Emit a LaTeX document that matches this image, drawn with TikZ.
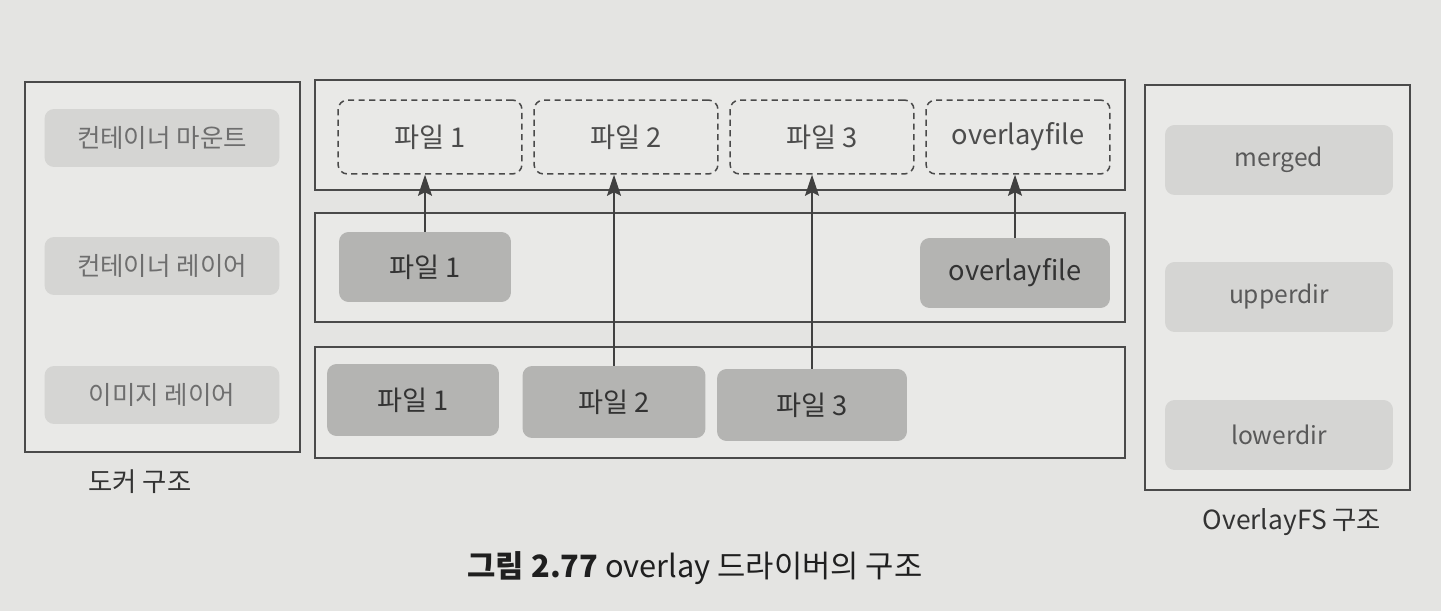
\documentclass[tikz,border=0pt]{standalone}
\usepackage{fontspec}
\setmainfont{Noto Sans CJK KR}
\usetikzlibrary{arrows.meta}
\definecolor{bg}{HTML}{E4E4E2}
\definecolor{panelbg}{HTML}{E9E9E7}
\definecolor{framec}{HTML}{4A4A4A}
\definecolor{darkpill}{HTML}{B4B4B2}
\definecolor{lightpill}{HTML}{D5D5D3}
\definecolor{lighttext}{HTML}{6E6E6E}
\tikzset{
  frame/.style={draw=framec, line width=0.8pt, fill=panelbg, inner sep=0pt},
  dashbox/.style={draw=framec, line width=0.85pt, dash pattern=on 3.5pt off 2.5pt,
    rounded corners=5.5pt, inner sep=0pt, text=black!70, font=\fontsize{15.5}{18}\selectfont},
  filebox/.style={fill=darkpill, rounded corners=5.5pt, inner sep=0pt, text=black!80,
    font=\fontsize{15.5}{18}\selectfont},
  sidepill/.style={fill=lightpill, rounded corners=5.5pt, inner sep=0pt, text=lighttext,
    minimum height=1.16cm, font=\fontsize{14.5}{17}\selectfont},
  sidepillR/.style={sidepill, text=black!65, font=\fontsize{14}{16}\selectfont},
  lbl/.style={text=black!80, font=\fontsize{15}{17}\selectfont, inner sep=0pt},
  uparrow/.style={draw=black!75, line width=0.85pt, -{Stealth[length=12pt,width=8pt,inset=2pt]}}
}
\begin{document}
\begin{tikzpicture}[x=0.02cm, y=-0.02cm]
\useasboundingbox (0,0) rectangle (1441,611);
\fill[bg] (0,0) rectangle (1441,611);

% Docker structure
\node[frame, minimum width=5.5cm, minimum height=7.4cm] (docker) at (162.5,267) {};
\node[sidepill, minimum width=4.7cm] (dmount) at (162,138) {컨테이너 마운트};
\node[sidepill, minimum width=4.7cm] (dcont) at (162,266) {컨테이너 레이어};
\node[sidepill, minimum width=4.7cm] (dimg) at (162,395) {이미지 레이어};
\node[lbl] (dlabel) at (140,482) {도커 구조};

% middle panels
\node[frame, minimum width=16.2cm, minimum height=2.2cm] (ptop) at (720,135) {};
\node[frame, minimum width=16.2cm, minimum height=2.18cm] (pmid) at (720,267.5) {};
\node[frame, minimum width=16.2cm, minimum height=2.22cm] (pbot) at (720,402.5) {};

% merged view (dashed)
\node[dashbox, minimum width=3.68cm, minimum height=1.48cm] (m1) at (430,137) {파일 1};
\node[dashbox, minimum width=3.68cm, minimum height=1.48cm] (m2) at (626,137) {파일 2};
\node[dashbox, minimum width=3.68cm, minimum height=1.48cm] (m3) at (822,137) {파일 3};
\node[dashbox, minimum width=3.68cm, minimum height=1.48cm] (m4) at (1018,137) {overlayfile};

% container layer
\node[filebox, minimum width=3.44cm, minimum height=1.4cm] (c1) at (425,267) {파일 1};
\node[filebox, minimum width=3.8cm, minimum height=1.4cm] (c4) at (1015,273) {overlayfile};

% image layer
\node[filebox, minimum width=3.44cm, minimum height=1.44cm] (i1) at (413,400) {파일 1};
\node[filebox, minimum width=3.66cm, minimum height=1.44cm] (i2) at (614,402) {파일 2};
\node[filebox, minimum width=3.8cm, minimum height=1.44cm] (i3) at (812,405) {파일 3};

% arrows
\draw[uparrow] (c1.north) -- (c1.north |- m1.south);
\draw[uparrow] (i2.north) -- (i2.north |- m2.south);
\draw[uparrow] (i3.north) -- (i3.north |- m3.south);
\draw[uparrow] (c4.north) -- (c4.north |- m4.south);

% OverlayFS structure
\node[frame, minimum width=5.3cm, minimum height=8.1cm] (ofs) at (1277.5,287.5) {};
\node[sidepillR, minimum width=4.56cm, minimum height=1.4cm] (merged) at (1279,160) {merged};
\node[sidepillR, minimum width=4.56cm, minimum height=1.4cm] (upper) at (1279,297) {upperdir};
\node[sidepillR, minimum width=4.56cm, minimum height=1.4cm] (lower) at (1279,435) {lowerdir};
\node[lbl] (olabel) at (1292,522) {OverlayFS 구조};

% caption
\node[text=black!88, font=\fontsize{17.5}{20}\selectfont, inner sep=0pt] (cap) at (695,568)
  {\textbf{그림 2.77} overlay 드라이버의 구조};
\end{tikzpicture}
\end{document}
